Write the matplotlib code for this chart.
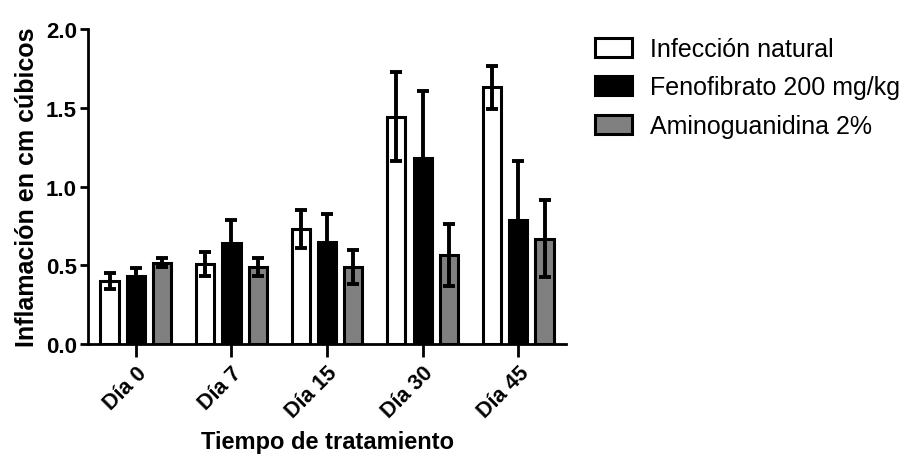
import matplotlib
matplotlib.use("Agg")
import matplotlib.pyplot as plt
import numpy as np

categories = ["Día 0", "Día 7", "Día 15", "Día 30", "Día 45"]
series_names = ["Infección natural", "Fenofibrato 200 mg/kg", "Aminoguanidina 2%"]
infeccion = [0.40, 0.51, 0.73, 1.445, 1.63]
infeccion_err = [0.05, 0.075, 0.118, 0.28, 0.137]
fenofibrato = [0.43, 0.64, 0.65, 1.18, 0.79]
fenofibrato_err = [0.055, 0.15, 0.177, 0.425, 0.373]
aminoguanidina = [0.517, 0.49, 0.49, 0.568, 0.67]
aminoguanidina_err = [0.03, 0.057, 0.11, 0.197, 0.247]
yticks = [0.0, 0.5, 1.0, 1.5, 2.0]

plt.rcParams['font.family'] = ['Liberation Sans', 'DejaVu Sans']

fig = plt.figure(figsize=(9.13, 4.64), dpi=100)
ax = fig.add_axes([0.0964, 0.2565, 0.5236, 0.6785])

x = np.arange(len(categories))
w = 0.19
off = 0.275
colors = ["white", "black", "#808080"]
data = [(infeccion, infeccion_err), (fenofibrato, fenofibrato_err), (aminoguanidina, aminoguanidina_err)]
for i, ((vals, errs), c, name) in enumerate(zip(data, colors, series_names)):
    pos = x + (i - 1) * off
    ax.bar(pos, vals, width=w, color=c, edgecolor="black", linewidth=2.2, label=name, zorder=2)
    ax.errorbar(pos, vals, yerr=errs, fmt="none", ecolor="black", elinewidth=2.8,
                capsize=4.5, capthick=2.8, zorder=3)

ax.set_xlim(-0.5, 4.5)
ax.set_ylim(0, 2.0)
ax.set_yticks(yticks)
ax.set_yticklabels([f"{v:.1f}" for v in yticks], fontsize=16, fontweight="bold")
ax.set_xticks(x)
ax.set_xticklabels(categories, rotation=45, ha="right", rotation_mode="anchor",
                   fontsize=15.5, fontweight="bold")
for s in ["top", "right"]:
    ax.spines[s].set_visible(False)
for s in ["left", "bottom"]:
    ax.spines[s].set_linewidth(2)
ax.tick_params(axis="both", width=2, length=6, direction="out", pad=2)
ax.tick_params(axis="x", length=9, pad=4)

ax.set_ylabel("Inflamación en cm cúbicos", fontsize=18, fontweight="bold", labelpad=5)
ax.set_xlabel("Tiempo de tratamiento", fontsize=17, fontweight="bold", labelpad=6)

leg = fig.legend(loc="upper left", bbox_to_anchor=(0.641, 0.94), frameon=False,
                 fontsize=18, handlelength=1.48, handleheight=0.8, handletextpad=0.72,
                 labelspacing=0.58, borderaxespad=0)
for p in leg.get_patches():
    p.set_linewidth(2.2)

fig.savefig("out.png", dpi=100)
